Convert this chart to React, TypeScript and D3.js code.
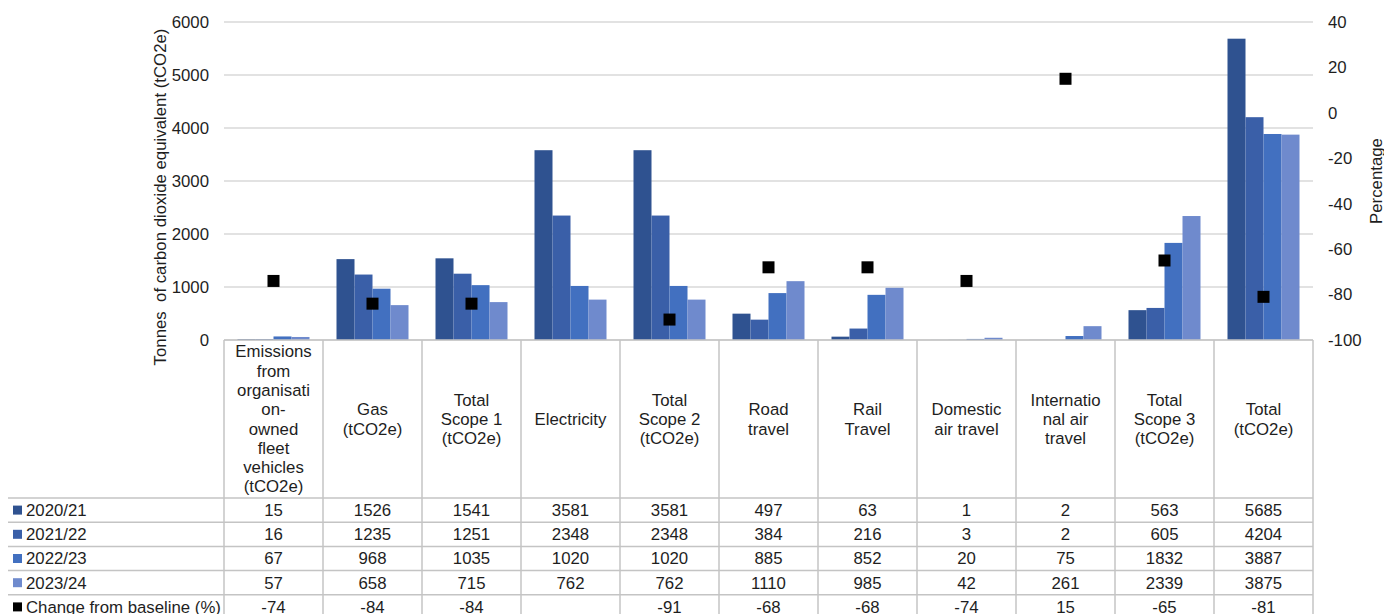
import React from "react";
import * as d3 from "d3";

const categories: string[][] = [
  ["Emissions", "from", "organisati", "on-", "owned", "fleet", "vehicles", "(tCO2e)"],
  ["Gas", "(tCO2e)"],
  ["Total", "Scope 1", "(tCO2e)"],
  ["Electricity"],
  ["Total", "Scope 2", "(tCO2e)"],
  ["Road", "travel"],
  ["Rail", "Travel"],
  ["Domestic", "air travel"],
  ["Internatio", "nal air", "travel"],
  ["Total", "Scope 3", "(tCO2e)"],
  ["Total", "(tCO2e)"],
];

const seriesNames = ["2020/21", "2021/22", "2022/23", "2023/24"];
const seriesColors = ["#2F5290", "#3A5FA8", "#4270C0", "#6F8ACD"];

const values2020: number[] = [15, 1526, 1541, 3581, 3581, 497, 63, 1, 2, 563, 5685];
const values2021: number[] = [16, 1235, 1251, 2348, 2348, 384, 216, 3, 2, 605, 4204];
const values2022: number[] = [67, 968, 1035, 1020, 1020, 885, 852, 20, 75, 1832, 3887];
const values2023: number[] = [57, 658, 715, 762, 762, 1110, 985, 42, 261, 2339, 3875];
const changeFromBaseline: (number | null)[] = [-74, -84, -84, null, -91, -68, -68, -74, 15, -65, -81];

const leftTicks = [0, 1000, 2000, 3000, 4000, 5000, 6000];
const rightTicks = [-100, -80, -60, -40, -20, 0, 20, 40];

const W = 1384;
const H = 614;
const plotLeft = 224;
const plotRight = 1313;
const plotTop = 22;
const plotBottom = 340;
const headerBottom = 498;
const rowH = 24.2;
const tableLeft = 8;
const font = "'Liberation Sans', Arial, sans-serif";
const fs = 16.8;
const gridColor = "#D9D9D9";
const tableColor = "#C4C4C4";
const textColor = "#1E1E1E";

export default function App() {
  const series = [values2020, values2021, values2022, values2023];
  const idx = categories.map((_, i) => String(i));
  const x0 = d3.scaleBand<string>().domain(idx).range([plotLeft, plotRight]).padding(0);
  const bw = x0.bandwidth();
  const groupW = bw * (72 / 99);
  const x1 = d3.scaleBand<string>().domain(seriesNames).range([0, groupW]).padding(0);
  const y = d3.scaleLinear().domain([0, 6000]).range([plotBottom, plotTop]);
  const y2 = d3.scaleLinear().domain([-100, 40]).range([plotBottom, plotTop]);

  const rows: { label: string; color: string; vals: (number | null)[] }[] = [
    ...seriesNames.map((n, s) => ({ label: n, color: seriesColors[s], vals: series[s] })),
    { label: "Change from baseline (%)", color: "#000000", vals: changeFromBaseline },
  ];

  const lineH = 19.3;
  const headerMid = (plotBottom + headerBottom) / 2;
  const tableBottom = headerBottom + rowH * rows.length;

  return (
    <svg
      width={W}
      height={H}
      style={{ position: "absolute", left: 0, top: 0, background: "#fff" }}
      fontFamily={font}
      fontSize={fs}
    >
      {/* horizontal gridlines */}
      {leftTicks.map((t) => (
        <line key={"g" + t} x1={plotLeft} x2={plotRight} y1={y(t)} y2={y(t)} stroke={gridColor} strokeWidth={1.5} />
      ))}

      {/* left axis labels */}
      {leftTicks.map((t) => (
        <text key={"l" + t} x={209} y={y(t)} dy="0.35em" textAnchor="end" fill={textColor}>
          {t}
        </text>
      ))}
      {/* right axis labels */}
      {rightTicks.map((t) => (
        <text key={"r" + t} x={1328} y={y2(t)} dy="0.35em" textAnchor="start" fill={textColor}>
          {t}
        </text>
      ))}

      <text
        transform={`translate(166,197) rotate(-90)`}
        textAnchor="middle"
        fill={textColor}
        style={{ whiteSpace: "pre" }}
      >
        {"Tonnes  of carbon dioxide equivalent (tCO2e)"}
      </text>
      <text transform={`translate(1382,181) rotate(-90)`} textAnchor="middle" fill={textColor}>
        Percentage
      </text>

      {/* bars */}
      {series.map((vals, s) =>
        vals.map((v, i) => {
          const bx = (x0(String(i)) as number) + (bw - groupW) / 2 + (x1(seriesNames[s]) as number);
          return (
            <rect
              key={`b${s}-${i}`}
              x={bx}
              y={y(v)}
              width={x1.bandwidth()}
              height={plotBottom - y(v)}
              fill={seriesColors[s]}
            />
          );
        })
      )}

      {/* change markers */}
      {changeFromBaseline.map((v, i) =>
        v === null ? null : (
          <rect
            key={"m" + i}
            x={(x0(String(i)) as number) + bw / 2 - 6}
            y={y2(v) - 6}
            width={12}
            height={12}
            fill="#000"
          />
        )
      )}

      {/* data table: horizontal lines */}
      <line x1={plotLeft} x2={plotRight} y1={plotBottom} y2={plotBottom} stroke={tableColor} strokeWidth={1.5} />
      {rows.map((_, r) => (
        <line
          key={"h" + r}
          x1={tableLeft}
          x2={plotRight}
          y1={headerBottom + r * rowH}
          y2={headerBottom + r * rowH}
          stroke={tableColor}
          strokeWidth={1.5}
        />
      ))}
      {/* vertical lines */}
      {d3.range(categories.length + 1).map((i) => {
        const vx = i < categories.length ? (x0(String(i)) as number) : plotRight;
        return (
          <line key={"v" + i} x1={vx} x2={vx} y1={plotBottom} y2={tableBottom} stroke={tableColor} strokeWidth={1.5} />
        );
      })}

      {/* header labels */}
      {categories.map((lines, i) => {
        const cx = (x0(String(i)) as number) + bw / 2;
        const start = headerMid - ((lines.length - 1) * lineH) / 2;
        return (
          <text key={"c" + i} x={cx} textAnchor="middle" fill={textColor}>
            {lines.map((ln, k) => (
              <tspan key={k} x={cx} y={start + k * lineH} dy="0.35em">
                {ln}
              </tspan>
            ))}
          </text>
        );
      })}

      {/* table rows */}
      {rows.map((row, r) => {
        const cy = headerBottom + r * rowH + rowH / 2;
        return (
          <g key={"row" + r}>
            <rect x={13} y={cy - 4.5} width={9} height={9} fill={row.color} />
            <text x={26} y={cy} dy="0.35em" fill={textColor}>
              {row.label}
            </text>
            {row.vals.map((v, i) =>
              v === null ? null : (
                <text
                  key={i}
                  x={(x0(String(i)) as number) + bw / 2}
                  y={cy}
                  dy="0.35em"
                  textAnchor="middle"
                  fill={textColor}
                >
                  {v}
                </text>
              )
            )}
          </g>
        );
      })}
    </svg>
  );
}
